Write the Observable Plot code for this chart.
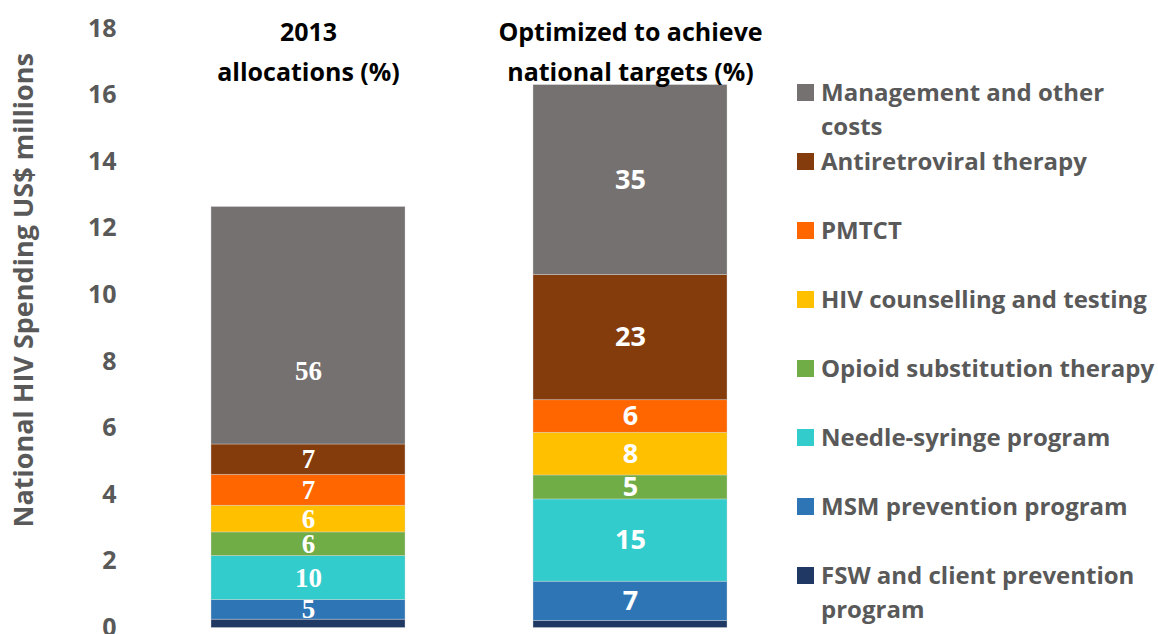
<!DOCTYPE html>
<html>
<head>
<meta charset="utf-8">
<script src="https://cdn.jsdelivr.net/npm/d3@7"></script>
<script src="https://cdn.jsdelivr.net/npm/@observablehq/plot@0.6"></script>
<style>
  html, body { margin: 0; padding: 0; background: #fff; }
  #wrap { position: relative; width: 1158px; height: 634px; overflow: hidden; }
  #legend { position: absolute; left: 797px; top: 0; font-family: "Open Sans", sans-serif; font-weight: 700; font-size: 24px; color: #595959; }
  .item { position: absolute; left: 0; width: 370px; display: flex; align-items: flex-start; }
  .sw { width: 17px; height: 17px; margin-top: 9px; margin-right: 7px; flex: none; }
  .lbl { line-height: 34px; white-space: nowrap; }
</style>
</head>
<body>
<div id="wrap"></div>
<script>
// ---- data ----
const categories = [
  "FSW and client prevention program",
  "MSM prevention program",
  "Needle-syringe program",
  "Opioid substitution therapy",
  "HIV counselling and testing",
  "PMTCT",
  "Antiretroviral therapy",
  "Management and other costs"
];
const legendLabels = [
  "FSW and client prevention\nprogram",
  "MSM prevention program",
  "Needle-syringe program",
  "Opioid substitution therapy",
  "HIV counselling and testing",
  "PMTCT",
  "Antiretroviral therapy",
  "Management and other\ncosts"
];
const scenarios = ["2013", "Optimized"];
const scenarioTitles = ["2013\nallocations (%)", "Optimized to achieve\nnational targets (%)"];
const spend2013 = [0.25, 0.59, 1.32, 0.71, 0.80, 0.93, 0.91, 7.13];
const spendOptimized = [0.21, 1.18, 2.47, 0.72, 1.28, 0.98, 3.76, 5.70];
const pct2013 = [null, 5, 10, 6, 6, 7, 7, 56];
const pctOptimized = [null, 7, 15, 5, 8, 6, 23, 35];
const colors = ["#1F3864", "#2E75B6", "#33CCCC", "#70AD47", "#FFC000", "#FF6600", "#843C0C", "#767171"];
const yTicks = [0, 2, 4, 6, 8, 10, 12, 14, 16, 18];
const yTitle = "National HIV Spending US$ millions";

// ---- table ----
const rows = [];
categories.forEach((c, i) => {
  rows.push({scenario: scenarios[0], category: c, value: spend2013[i], pct: pct2013[i]});
  rows.push({scenario: scenarios[1], category: c, value: spendOptimized[i], pct: pctOptimized[i]});
});
const stackOpts = {x: "scenario", y: "value", z: "category", order: null};
const labelStyle = {fill: "white", fontWeight: 700, fontSize: 27};
const lab = cond => d => (d.pct != null && cond(d)) ? String(d.pct) : null;

const chart = Plot.plot({
  width: 1158,
  height: 634,
  marginLeft: 130,
  marginRight: 350,
  marginTop: 28,
  marginBottom: 6.5,
  x: {domain: scenarios, paddingInner: 0.3985, paddingOuter: 0.251, axis: null},
  y: {domain: [0, 18]},
  color: {domain: categories, range: colors},
  style: {fontFamily: "Open Sans, sans-serif", overflow: "visible"},
  marks: [
    Plot.barY(rows, Plot.stackY({...stackOpts, fill: "category", stroke: "#d9d9d9", strokeOpacity: 0.5, strokeWidth: 0.75})),
    // 2013 labels (serif)
    Plot.text(rows, Plot.stackY({...stackOpts, ...labelStyle, fontFamily: "Liberation Serif, serif",
      text: lab(d => d.scenario === scenarios[0] && d.pct < 50)})),
    Plot.text(rows, Plot.stackY({...stackOpts, ...labelStyle, fontFamily: "Liberation Serif, serif", dy: 46,
      text: lab(d => d.scenario === scenarios[0] && d.pct >= 50)})),
    // optimized labels (sans)
    Plot.text(rows, Plot.stackY({...stackOpts, ...labelStyle,
      text: lab(d => d.scenario === scenarios[1])})),
    // titles above bars
    Plot.text(scenarios, {x: d => d, text: (d, i) => scenarioTitles[i], frameAnchor: "top", lineAnchor: "top",
      dy: -16, lineHeight: 1.6, fontSize: 25, fontWeight: 700, fill: "black"}),
    Plot.axisY({ticks: yTicks, tickSize: 0, tickPadding: 14, fontSize: 25, fontWeight: 700, fill: "#595959", label: null}),
    Plot.text([yTitle], {frameAnchor: "left", textAnchor: "middle", rotate: -90, dx: -106, dy: -38,
      fontSize: 27, fontWeight: 700, fill: "#595959"})
  ]
});

const wrap = document.getElementById("wrap");
wrap.appendChild(chart);

// ---- legend (top to bottom) ----
const legend = document.createElement("div");
legend.id = "legend";
const legendTop = 75; const legendStep = 69;
for (let k = 0; k < categories.length; k++) {
  const i = categories.length - 1 - k;
  const item = document.createElement("div");
  item.className = "item";
  item.style.top = (legendTop + k * legendStep) + "px";
  const sw = document.createElement("div");
  sw.className = "sw";
  sw.style.background = colors[i];
  const lbl = document.createElement("div");
  lbl.className = "lbl";
  lbl.innerHTML = legendLabels[i].replace("\n", "<br>");
  item.appendChild(sw);
  item.appendChild(lbl);
  legend.appendChild(item);
}
wrap.appendChild(legend);
</script>
</body>
</html>
